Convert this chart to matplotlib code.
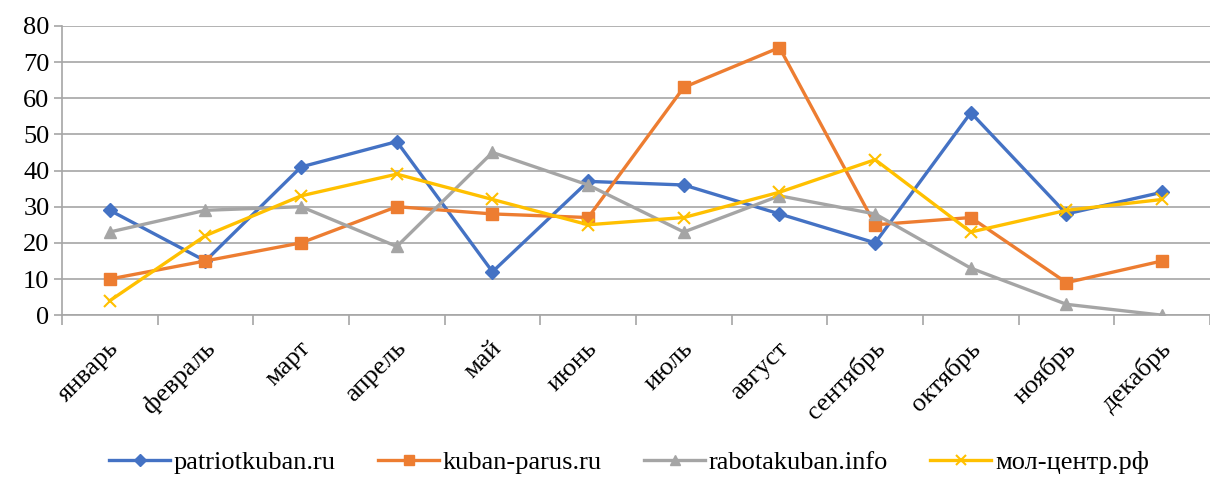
import numpy as np
import matplotlib.pyplot as plt
import matplotlib.transforms as mtransforms
from matplotlib import font_manager as fm

# Times-like font, loaded by file so every text really uses it
SERIF_PATH = fm.findfont('Liberation Serif')
plt.rcParams['font.family'] = 'Liberation Serif'


def fp(size):
    return fm.FontProperties(fname=SERIF_PATH, size=size)


months = ['январь', 'февраль', 'март', 'апрель', 'май', 'июнь',
          'июль', 'август', 'сентябрь', 'октябрь', 'ноябрь', 'декабрь']

patriotkuban = [29, 15, 41, 48, 12, 37, 36, 28, 20, 56, 28, 34]
kuban_parus = [10, 15, 20, 30, 28, 27, 63, 74, 25, 27, 9, 15]
rabotakuban = [23, 29, 30, 19, 45, 36, 23, 33, 28, 13, 3, 0]
mol_centr = [4, 22, 33, 39, 32, 25, 27, 34, 43, 23, 29, 32]

series = [
    ('patriotkuban.ru', patriotkuban, '#4472C4', 'D', 7),
    ('kuban-parus.ru', kuban_parus, '#ED7D31', 's', 9),
    ('rabotakuban.info', rabotakuban, '#A5A5A5', '^', 9),
    ('мол-центр.рф', mol_centr, '#FFC000', 'x', 9),
]

fig = plt.figure(figsize=(12.1, 4.79), dpi=100)
ax = fig.add_axes([0.0512, 0.342, 0.9488, 0.604])

x = np.arange(len(months))
for name, vals, col, mk, ms in series:
    ax.plot(x, vals, color=col, lw=2.4, marker=mk, markersize=ms,
            markeredgewidth=1.5 if mk == 'x' else 1, markerfacecolor=col,
            markeredgecolor=col, label=name)

ax.set_xlim(-0.5, 11.5)
ax.set_ylim(0, 80)
ax.set_yticks(range(0, 81, 10))
ax.set_yticklabels([str(v) for v in range(0, 81, 10)], fontproperties=fp(19))
ax.yaxis.grid(True, color='#a6a6a6', lw=1.2)
ax.set_axisbelow(True)

for s in ['top', 'right']:
    ax.spines[s].set_visible(False)
for s in ['left', 'bottom']:
    ax.spines[s].set_color('#a6a6a6')
    ax.spines[s].set_linewidth(1.2)

ax.tick_params(axis='y', length=6, color='#a6a6a6', width=1.2, pad=3)
ax.set_xticks(x)
ax.set_xticklabels(months, rotation=45, ha='right', va='center',
                   rotation_mode='anchor', fontproperties=fp(19))
ax.set_xticks(np.arange(-0.5, 12, 1), minor=True)
ax.tick_params(axis='x', which='major', length=0, pad=0)
ax.tick_params(axis='x', which='minor', length=7, color='#a6a6a6', width=1.2)

offset = mtransforms.ScaledTranslation(0.06, -0.3, fig.dpi_scale_trans)
for lbl in ax.get_xticklabels():
    lbl.set_transform(lbl.get_transform() + offset)

fig.legend(loc='lower center', bbox_to_anchor=(0.52, -0.04), ncol=4,
           frameon=False, prop=fp(19),
           handlelength=2.3, columnspacing=1.6,
           handletextpad=0.15, markerscale=0.85)

fig.savefig('out.png', dpi=100)
